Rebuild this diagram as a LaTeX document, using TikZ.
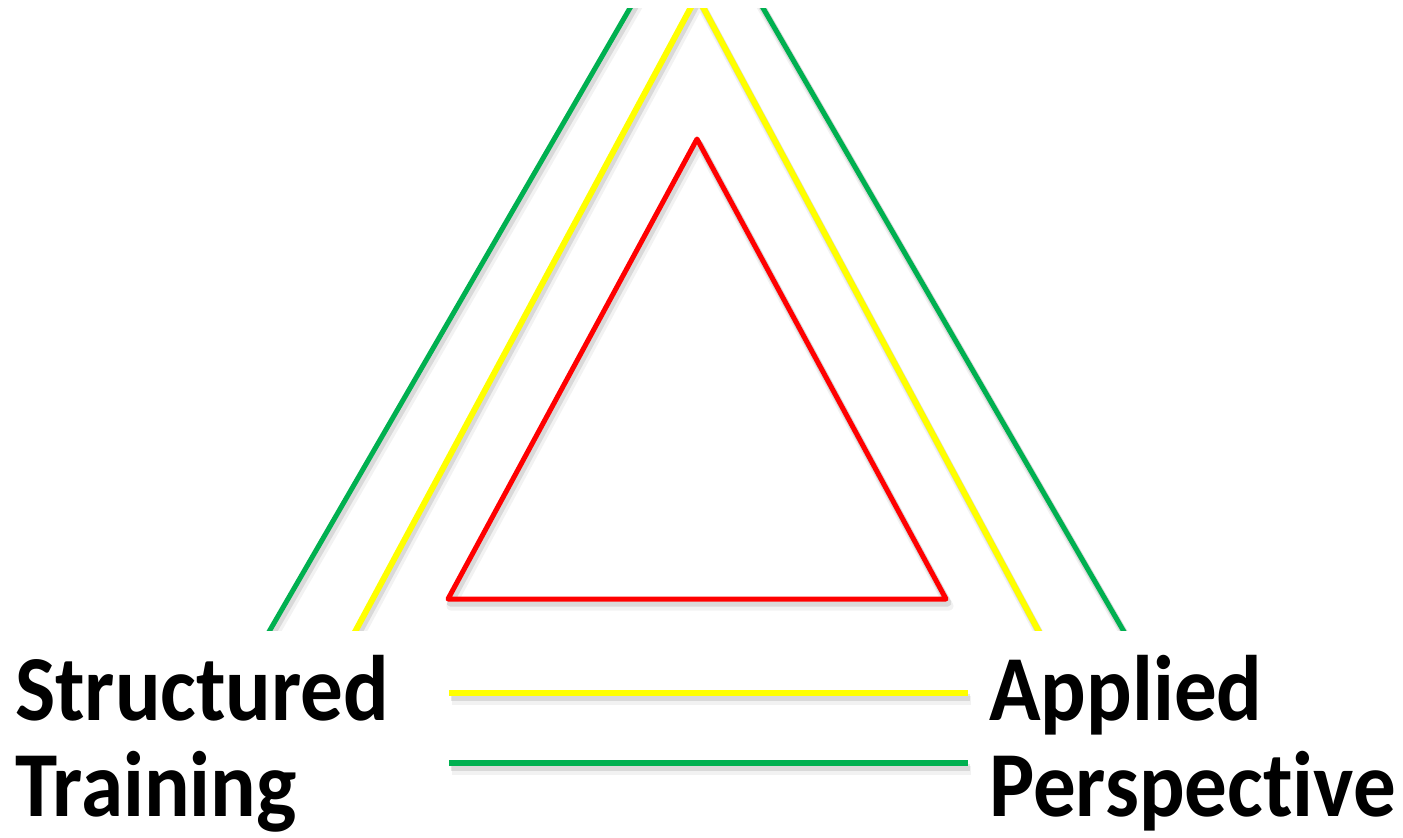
\documentclass[tikz,border=0pt]{standalone}
\usepackage{fontspec}
\setmainfont{Carlito}[Ligatures=NoCommon, FakeStretch=0.915]
\usetikzlibrary{calc}
\definecolor{ggreen}{HTML}{00B050}
\definecolor{yyellow}{HTML}{FFFF00}
\definecolor{rred}{HTML}{FF0000}
\tikzset{
  greenline/.style={draw=ggreen, line width=5pt},
  yellowline/.style={draw=yyellow, line width=6pt},
  redline/.style={draw=rred, line width=5pt, line join=round},
  shade/.style={draw=black, opacity=0.10, line width=7pt,
                transform canvas={shift={(2pt,-4pt)}}},
  shadefar/.style={draw=black, opacity=0.05, line width=9pt,
                   transform canvas={shift={(3pt,-7pt)}}},
  sidetext/.style={font=\fontsize{93}{96}\selectfont\bfseries,
                   align=left, inner sep=0pt, anchor=base west},
}
\begin{document}
\begin{tikzpicture}[x=1pt, y=-1pt]
\useasboundingbox[fill=white] (0,0) rectangle (1403,838);

% outer (green) and middle (yellow) sides, cut flat top and bottom
\coordinate (gl) at (270,630);
\coordinate (gt) at (630,8);
\coordinate (gr) at (1123,630);
\coordinate (gs) at (763,8);
\coordinate (yl) at (356,630);
\coordinate (ya) at (697,-4);
\coordinate (yr) at (1038,630);
\begin{scope}
  \clip (0,8) rectangle (1403,630);
  \foreach \s in {shadefar, shade} {
    \draw[\s] ($(gl)!-0.05!(gt)$) -- ($(gt)!-0.05!(gl)$);
    \draw[\s] ($(gs)!-0.05!(gr)$) -- ($(gr)!-0.05!(gs)$);
    \draw[\s] ($(yl)!-0.05!(ya)$) -- (ya) -- ($(yr)!-0.05!(ya)$);
  }
  \draw[greenline] ($(gl)!-0.05!(gt)$) -- ($(gt)!-0.05!(gl)$);
  \draw[greenline] ($(gs)!-0.05!(gr)$) -- ($(gr)!-0.05!(gs)$);
  \draw[yellowline] ($(yl)!-0.05!(ya)$) -- (ya) -- ($(yr)!-0.05!(ya)$);
\end{scope}

% inner (red) triangle
\coordinate (ra) at (697,139);
\coordinate (rl) at (448,599);
\coordinate (rr) at (946,599);
\foreach \s in {shadefar, shade}
  \draw[\s, line join=round] (ra) -- (rr) -- (rl) -- cycle;
\draw[redline] (ra) -- (rr) -- (rl) -- cycle;

% labels (anchored on the baseline of the second line)
\node[sidetext] (structured) at (15,816) {Structured\\Training};
\node[sidetext] (applied) at (989,816) {Applied\\Perspective};

% key lines between the labels
\coordinate (ykl) at (449,693);
\coordinate (ykr) at (968,693);
\coordinate (gkl) at (449,763);
\coordinate (gkr) at (968,763);
\foreach \s in {shadefar, shade} {
  \draw[\s] (ykl) -- (ykr);
  \draw[\s] (gkl) -- (gkr);
}
\draw[yellowline] (ykl) -- (ykr);
\draw[greenline, line width=6pt] (gkl) -- (gkr);
\end{tikzpicture}
\end{document}
